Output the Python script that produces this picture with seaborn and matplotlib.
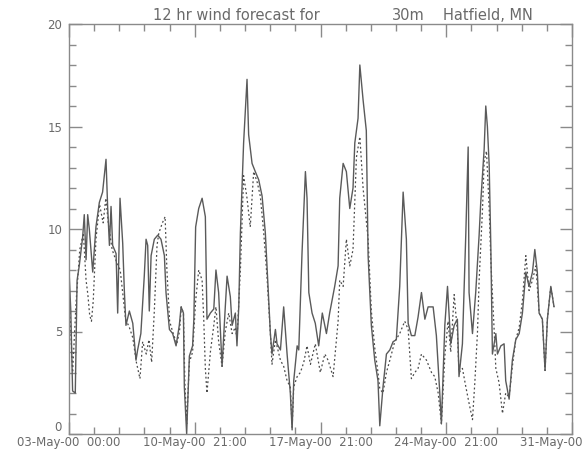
import matplotlib
matplotlib.use("Agg")
import matplotlib.pyplot as plt
import seaborn as sns
import pandas as pd
from matplotlib.ticker import MultipleLocator

# ---- data (days since 03-May-00 00:00, wind speed) ----
obs_day = [0.0, 0.1, 0.2, 0.35, 0.45, 0.57, 0.76, 0.85, 0.95, 1.04, 1.13, 1.32, 1.5, 1.69, 1.87,
           2.06, 2.15, 2.25, 2.34, 2.43, 2.62, 2.71, 2.84, 2.99, 3.08, 3.17, 3.36, 3.55, 3.73, 3.82,
           4.0, 4.19, 4.29, 4.38, 4.47, 4.57, 4.75, 4.94, 5.12, 5.31, 5.4, 5.59, 5.77, 5.96, 6.14,
           6.24, 6.37, 6.42, 6.55, 6.7, 6.88, 6.95, 7.05, 7.22, 7.41, 7.59, 7.68, 7.87, 8.06, 8.18,
           8.33, 8.52, 8.7, 8.8, 8.98, 9.08, 9.26, 9.35, 9.45, 9.54, 9.72, 9.91, 10.0, 10.19, 10.37,
           10.56, 10.75, 10.93, 11.12, 11.21, 11.3, 11.49, 11.58, 11.77, 11.95, 12.14, 12.32, 12.42,
           12.51, 12.7, 12.79, 12.97, 13.16, 13.25, 13.35, 13.53, 13.71, 13.9, 14.1, 14.33, 14.51,
           14.79, 14.98, 15.07, 15.26, 15.44, 15.63, 15.81, 15.91, 16.09, 16.19, 16.37, 16.55, 16.65,
           16.83, 17.02, 17.2, 17.3, 17.48, 17.67, 17.86, 18.04, 18.22, 18.41, 18.6, 18.78, 18.88,
           19.06, 19.25, 19.43, 19.62, 19.81, 19.99, 20.27, 20.45, 20.64, 20.73, 20.92, 21.07, 21.25,
           21.44, 21.62, 21.71, 21.9, 22.09, 22.22, 22.27, 22.46, 22.64, 22.83, 22.92, 23.11, 23.2,
           23.29, 23.39, 23.48, 23.57, 23.76, 23.85, 24.04, 24.22, 24.31, 24.5, 24.68, 24.87, 25.06,
           25.24, 25.43, 25.61, 25.8, 25.93, 26.07, 26.17, 26.35, 26.5, 26.63, 26.82, 27.0]
obs_val = [8.0, 6.0, 2.1, 2.0, 7.5, 8.2, 9.6, 10.7, 8.5, 10.7, 10.0, 7.9, 10.1, 11.3, 11.8,
           13.4, 11.1, 9.2, 11.1, 9.2, 8.8, 5.9, 11.5, 9.3, 7.0, 5.3, 6.0, 5.4, 3.6, 4.1,
           4.9, 7.7, 9.5, 9.2, 6.0, 8.7, 9.5, 9.7, 9.5, 8.7, 6.9, 5.1, 4.9, 4.3, 5.3,
           6.2, 5.9, 2.3, 0.0, 3.8, 4.3, 5.6, 10.1, 11.0, 11.5, 10.6, 5.6, 5.9, 6.1, 8.0,
           6.9, 3.3, 6.2, 7.7, 6.7, 5.3, 5.9, 4.3, 6.2, 9.8, 14.2, 17.3, 14.6, 13.2, 12.8,
           12.4, 11.6, 9.8, 6.5, 4.9, 3.9, 5.1, 4.4, 4.1, 6.2, 3.9, 2.0, 0.2,
           2.6, 4.3, 4.1, 8.8, 12.8, 11.5, 6.9, 5.9, 5.4, 4.3, 5.9, 4.9, 5.9,
           7.2, 8.2, 11.5, 13.2, 12.8, 11.0, 12.0, 14.2, 15.4, 18.0, 16.3, 14.8, 8.7,
           5.3, 3.6, 2.6, 0.4, 2.3, 3.9, 4.1, 4.5, 4.6, 7.2, 11.8, 9.5, 5.4,
           4.8, 4.8, 5.7, 6.9, 5.6, 6.2, 6.2, 4.8, 2.0, 0.5, 5.3, 7.2, 4.4,
           5.3, 5.6, 2.8, 4.4, 9.8, 14.0, 6.9, 4.9, 6.9, 9.7, 11.3, 13.9, 16.0,
           15.0, 13.1, 9.2, 3.9, 4.9, 3.9, 4.3, 4.4, 2.6, 1.7, 3.6, 4.6, 4.9,
           5.9, 7.9, 7.2, 7.9, 9.0, 7.9, 5.9, 5.6, 3.1, 5.6, 7.2, 6.2]

fc_day = [0.0, 0.2, 0.4, 0.6, 0.8, 0.95, 1.05, 1.15, 1.25, 1.35, 1.5, 1.7, 1.9, 2.05, 2.2,
          2.4, 2.6, 2.85, 3.0, 3.15, 3.36, 3.55, 3.75, 3.95, 4.1, 4.3, 4.45, 4.6, 4.75, 4.9,
          5.0, 5.2, 5.35, 5.45, 5.6, 5.8, 6.0, 6.15, 6.25, 6.37, 6.45, 6.55, 6.7, 6.88, 7.05,
          7.22, 7.41, 7.5, 7.59, 7.68, 7.87, 8.06, 8.18, 8.33, 8.52, 8.7, 8.89, 9.08, 9.26, 9.35,
          9.54, 9.72, 9.91, 10.09, 10.28, 10.47, 10.65, 10.84, 11.02, 11.21, 11.3, 11.49, 11.77,
          11.95, 12.14, 12.32, 12.42, 12.51, 12.7, 12.88, 13.07, 13.25, 13.44, 13.71, 13.99,
          14.24, 14.42, 14.7, 14.98, 15.07, 15.26, 15.44, 15.63, 15.81, 16.0, 16.19, 16.37,
          16.65, 16.83, 17.02, 17.2, 17.3, 17.48, 17.67, 17.86, 18.13, 18.41, 18.69, 18.88, 19.06,
          19.25, 19.43, 19.62, 19.9, 20.18, 20.36, 20.55, 20.73, 20.92, 21.1, 21.25, 21.44, 21.62,
          21.71, 21.9, 22.09, 22.27, 22.46, 22.59, 22.74, 22.83, 23.02, 23.11, 23.24, 23.39, 23.48,
          23.67, 23.76, 23.94, 24.13, 24.31, 24.5, 24.68, 24.87, 25.06, 25.24, 25.43, 25.61, 25.8,
          25.99, 26.17, 26.35, 26.5, 26.63, 26.82, 27.0]
fc_val = [7.0, 3.0, 6.5, 9.0, 9.8, 7.5, 6.8, 5.8, 5.5, 6.5, 9.5, 11.2, 10.3, 11.5, 10.2,
          9.0, 8.5, 8.0, 6.8, 5.6, 5.2, 4.7, 3.5, 2.7, 4.5, 3.9, 4.6, 3.5, 6.0, 9.2,
          9.8, 10.3, 10.6, 8.0, 5.5, 4.9, 4.4, 5.0, 6.2, 5.9, 2.5, 0.5, 3.5, 4.0, 6.5,
          8.0, 7.5, 5.6, 3.2, 2.0, 4.0, 5.3, 6.2, 4.5, 3.3, 5.0, 5.9, 4.9, 5.2, 4.6,
          8.0, 12.6, 11.5, 10.1, 12.8, 12.3, 11.6, 9.8, 7.7, 4.9, 3.4, 4.6, 3.6,
          3.3, 2.6, 2.3, 0.3, 2.3, 2.8, 3.0, 3.5, 4.3, 3.4, 4.4, 3.0,
          3.9, 3.6, 2.8, 5.5, 7.5, 7.2, 9.5, 8.2, 9.0, 13.5, 14.5, 12.0,
          9.5, 6.0, 4.2, 3.0, 2.2, 2.0, 3.0, 3.6, 4.5, 4.9, 5.5, 5.1, 2.7,
          3.0, 3.2, 3.9, 3.6, 3.0, 2.8, 2.0, 0.5, 3.8, 5.5, 4.0, 6.8, 5.0,
          3.0, 3.2, 2.3, 1.5, 0.7, 2.5, 5.0, 7.5, 11.0, 13.3, 13.8, 11.0, 8.5,
          5.0, 3.2, 2.5, 1.0, 2.0, 1.8, 3.3, 4.6, 5.2, 6.5, 8.7, 7.0, 7.5,
          8.2, 5.9, 5.6, 3.1, 5.6, 7.2, 6.2]

x_tick_pos = [0, 7, 14, 21, 28]
x_tick_labels = ["03-May-00  00:00", "10-May-00  21:00", "17-May-00  21:00",
                 "24-May-00  21:00", "31-May-00  00:00"]
y_ticks = [0, 5, 10, 15, 20]
title_parts = ["12 hr wind forecast for", "30m", "Hatfield, MN"]

# ---- figure ----
sns.set_style("white")
plt.rcParams['font.family'] = ['DejaVu Sans']
W, H = 587, 451
fig = plt.figure(figsize=(W / 100, H / 100), dpi=100)
ax = fig.add_axes([69 / W, 17 / H, (572 - 69) / W, (434 - 24) / H])

obs = pd.DataFrame({"day": obs_day, "speed": obs_val})
fc = pd.DataFrame({"day": fc_day, "speed": fc_val})

sns.lineplot(data=fc, x="day", y="speed", ax=ax, color="#4a4a4a", lw=0.9,
             linestyle=(0, (1.5, 2.0)))
sns.lineplot(data=obs, x="day", y="speed", ax=ax, color="#5a5a5a", lw=1.0)

ax.set_xlim(0, 28)
ax.set_ylim(0, 20)
ax.set_xlabel("")
ax.set_ylabel("")

frame_col = "#8a8a8a"
text_col = "#6a6a6a"
for s in ax.spines.values():
    s.set_color(frame_col)
    s.set_linewidth(1.0)
    s.set_visible(True)

ax.set_xticks(x_tick_pos)
ax.set_xticklabels(x_tick_labels)
ax.set_yticks(y_ticks)
ax.set_yticklabels([str(v) for v in y_ticks])
ax.xaxis.set_minor_locator(MultipleLocator(1.4))
ax.yaxis.set_minor_locator(MultipleLocator(1))
ax.tick_params(which="both", direction="in", top=True, right=True, bottom=True, left=True,
               color=frame_col, width=1.0, labelcolor=text_col)
ax.tick_params(which="major", length=9)
ax.tick_params(which="minor", length=5)
ax.tick_params(axis="x", which="major", labelsize=8.5, pad=1.5)
ax.tick_params(axis="y", which="major", labelsize=8.5, pad=5)
ax.get_yticklabels()[0].set_verticalalignment("bottom")

# title pieces positioned as in the reference
title_x = [153, 392, 443]
for txt, px in zip(title_parts, title_x):
    fig.text(px / W, 1 - 15 / H, txt, ha="left", va="center", fontsize=10.5, color=text_col)

fig.savefig("out.png", dpi=100)
